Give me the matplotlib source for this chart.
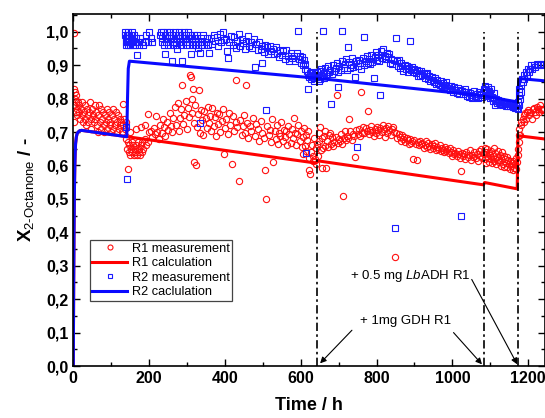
import numpy as np
import matplotlib
matplotlib.use('Agg')
import matplotlib.pyplot as plt
from matplotlib.ticker import MultipleLocator, FuncFormatter

plt.rcParams['font.family'] = ['Liberation Sans', 'DejaVu Sans']
plt.rcParams['mathtext.fontset'] = 'custom'
plt.rcParams['mathtext.rm'] = 'Liberation Sans'
plt.rcParams['mathtext.it'] = 'Liberation Sans:italic'
plt.rcParams['mathtext.bf'] = 'Liberation Sans:bold'

r1_t_a = [1, 2, 3, 3, 4, 5, 6, 7, 8, 9, 11, 12, 14, 16, 18, 20, 22, 24, 26, 28, 30, 32, 34, 36, 38,
          40, 42, 44, 46, 48, 50, 52, 54, 56, 58, 60, 62, 64, 66, 68, 70, 72, 74, 76, 78, 80, 82, 84,
          86, 88, 90, 92, 94, 96, 98, 100, 102, 104, 106, 108, 110, 112, 114, 116, 118, 120, 122, 124,
          126, 128, 130, 132, 134, 136, 138]
r1_y_a = [0.73, 0.83, 0.995, 0.78, 0.82, 0.80, 0.79, 0.76, 0.81, 0.77, 0.75, 0.79, 0.76, 0.78, 0.74,
          0.77, 0.79, 0.75, 0.73, 0.76, 0.78, 0.74, 0.72, 0.77, 0.75, 0.73, 0.76, 0.79, 0.74, 0.71,
          0.77, 0.75, 0.73, 0.78, 0.74, 0.76, 0.72, 0.70, 0.75, 0.78, 0.73, 0.71, 0.77, 0.74, 0.76,
          0.72, 0.70, 0.75, 0.73, 0.77, 0.71, 0.74, 0.76, 0.72, 0.73, 0.70, 0.75, 0.77, 0.71, 0.74,
          0.72, 0.76, 0.73, 0.70, 0.75, 0.71, 0.74, 0.72, 0.73, 0.70, 0.785, 0.72, 0.74, 0.71, 0.73]
r1_t_b = [140, 142, 143, 144, 146, 148, 150, 150, 152, 154, 156, 158, 160, 162, 164, 165, 166, 168, 170,
          172, 174, 176, 178, 178, 180, 182, 185, 188, 190, 192, 196, 196, 200]
r1_y_b = [0.68, 0.65, 0.59, 0.67, 0.64, 0.66, 0.63, 0.70, 0.65, 0.67, 0.64, 0.66, 0.63, 0.65, 0.64,
          0.71, 0.66, 0.63, 0.67, 0.64, 0.65, 0.63, 0.66, 0.715, 0.64, 0.67, 0.65, 0.68, 0.72, 0.66,
          0.67, 0.753, 0.70]
r1_t_c = [205, 208, 212, 215, 219, 222, 226, 229, 233, 236, 240, 243, 247, 250, 254, 257, 261, 264,
          268, 271, 275, 278, 282, 285, 288, 290, 293, 296, 299, 302, 305, 308, 310, 312, 314, 316,
          318, 319, 322, 324, 326, 329, 331, 334, 337, 340, 343, 346, 349, 352, 355, 358, 361, 364,
          367, 370, 373, 376, 379, 382, 385, 388, 391, 395, 398, 401, 404, 407, 410, 414, 418, 421,
          424, 428, 430, 433, 437, 440, 444, 447, 451, 454, 456, 459, 462, 466, 470, 474, 478, 482,
          486, 490, 494, 498, 502, 506, 509, 512, 515, 518, 521, 524, 528, 531, 534, 537, 540, 543,
          546, 549, 552, 555, 558, 561, 564, 567, 570, 573, 576, 579, 582, 585, 588, 591, 594, 597,
          600, 602, 605, 607, 609, 611, 613, 615, 617, 619, 621, 623, 625, 627, 629, 631, 633, 635,
          637, 639, 641]
r1_y_c = [0.703, 0.684, 0.712, 0.693, 0.748, 0.701, 0.679, 0.722, 0.697, 0.738,
          0.714, 0.688, 0.731, 0.706, 0.757, 0.718, 0.699, 0.743, 0.776, 0.721,
          0.787, 0.702, 0.741, 0.768, 0.84, 0.724, 0.752, 0.792, 0.709, 0.773,
          0.744, 0.87, 0.865, 0.80, 0.758, 0.83, 0.727, 0.61, 0.781, 0.60,
          0.716, 0.753, 0.826, 0.698, 0.767, 0.735, 0.692, 0.762, 0.741, 0.713,
          0.776, 0.728, 0.749, 0.704, 0.771, 0.719, 0.745, 0.687, 0.758, 0.723,
          0.754, 0.701, 0.732, 0.768, 0.634, 0.712, 0.739, 0.694, 0.757, 0.722,
          0.604, 0.747, 0.703, 0.729, 0.856, 0.714, 0.552, 0.736, 0.691, 0.718,
          0.751, 0.698, 0.84, 0.727, 0.683, 0.719, 0.704, 0.742, 0.688, 0.723,
          0.709, 0.674, 0.733, 0.696, 0.681, 0.585, 0.50, 0.718, 0.692, 0.707,
          0.671, 0.738, 0.609, 0.703, 0.679, 0.722, 0.664, 0.698, 0.687, 0.731,
          0.673, 0.706, 0.684, 0.702, 0.662, 0.717, 0.693, 0.668, 0.709, 0.682,
          0.743, 0.697, 0.661, 0.694, 0.721, 0.672, 0.703, 0.654, 0.634, 0.684,
          0.712, 0.659, 0.692, 0.643, 0.676, 0.703, 0.623, 0.587, 0.575, 0.641,
          0.662, 0.613, 0.628, 0.681, 0.619, 0.652, 0.603]
r1_t_d = [643, 645, 647, 649, 651, 653, 655, 657, 659, 661, 663, 665, 667, 669, 672, 675, 677, 680,
          683, 686, 689, 692, 695, 697, 700, 703, 706, 709, 711, 713, 716, 719, 722, 725, 728, 731,
          734, 737, 740, 744, 747, 750, 753, 756, 759, 762, 765, 768, 771, 774, 777, 780, 783, 786,
          789, 792, 795, 798, 801, 804, 807, 810, 813, 816, 819, 822, 825, 828, 831, 834, 837, 840,
          843, 846, 849, 852, 855, 858, 861, 864, 867, 870, 873, 876, 879, 882, 885, 888, 891, 894,
          897, 900, 903, 906, 909, 912, 915, 918, 921, 924, 927, 930, 933, 936, 939, 942, 945, 948,
          951, 954, 957, 960, 963, 966, 969, 972, 975, 978, 981, 984, 987, 990, 993, 996, 999, 1002,
          1005, 1008, 1011, 1014, 1017, 1020, 1022, 1025, 1028, 1031, 1034, 1037, 1040, 1043, 1046,
          1049, 1052, 1055, 1058, 1061, 1064, 1067, 1070, 1073, 1076, 1079, 1081]
r1_y_d = [0.664, 0.628, 0.697, 0.672, 0.716, 0.645, 0.592, 0.683, 0.652, 0.688, 0.657, 0.703, 0.592,
          0.674, 0.655, 0.692, 0.697, 0.663, 0.684, 0.657, 0.671, 0.686, 0.812, 0.668, 0.678, 0.673,
          0.693, 0.664, 0.51, 0.681, 0.704, 0.676, 0.689, 0.683, 0.738, 0.702, 0.677, 0.694, 0.687,
          0.625, 0.706, 0.695, 0.708, 0.689, 0.819, 0.698, 0.716, 0.697, 0.712, 0.703, 0.764, 0.693,
          0.707, 0.718, 0.701, 0.688, 0.709, 0.696, 0.714, 0.705, 0.691, 0.711, 0.699, 0.722, 0.708,
          0.684, 0.713, 0.697, 0.717, 0.706, 0.692, 0.709, 0.715, 0.701, 0.325, 0.698, 0.681, 0.694,
          0.686, 0.673, 0.691, 0.678, 0.684, 0.669, 0.683, 0.675, 0.664, 0.679, 0.668, 0.672, 0.619,
          0.676, 0.665, 0.615, 0.671, 0.661, 0.674, 0.663, 0.668, 0.652, 0.661, 0.673, 0.656, 0.666,
          0.659, 0.648, 0.664, 0.653, 0.657, 0.668, 0.646, 0.655, 0.649, 0.661, 0.642, 0.652, 0.647,
          0.639, 0.654, 0.643, 0.648, 0.636, 0.651, 0.641, 0.629, 0.646, 0.634, 0.638, 0.627, 0.643,
          0.633, 0.621, 0.584, 0.637, 0.628, 0.635, 0.619, 0.641, 0.626, 0.632, 0.645, 0.617, 0.631,
          0.624, 0.639, 0.622, 0.634, 0.614, 0.643, 0.629, 0.648, 0.623, 0.636]
r1_t_e = [1084, 1085, 1086, 1088, 1089, 1091, 1092, 1094, 1096, 1097, 1099, 1101, 1103, 1105, 1107,
          1109, 1111, 1113, 1115, 1117, 1119, 1121, 1123, 1125, 1127, 1129, 1131, 1133, 1135, 1137,
          1139, 1141, 1143, 1145, 1147, 1149, 1151, 1153, 1155, 1157, 1159, 1161, 1163, 1165, 1167,
          1169, 1171]
r1_y_e = [0.633, 0.652, 0.618, 0.641, 0.607, 0.629, 0.648, 0.621, 0.637, 0.611,
          0.632, 0.619, 0.644, 0.606, 0.627, 0.651, 0.614, 0.638, 0.603, 0.625,
          0.617, 0.642, 0.609, 0.631, 0.598, 0.622, 0.639, 0.605, 0.628, 0.596,
          0.618, 0.608, 0.626, 0.594, 0.615, 0.603, 0.588, 0.612, 0.597, 0.606,
          0.585, 0.614, 0.593, 0.604, 0.621, 0.590, 0.611]
r1_t_f = [1173, 1174, 1175, 1176, 1177, 1179, 1180, 1182, 1185, 1188, 1190, 1192, 1195, 1198, 1200,
          1203, 1206, 1209, 1212, 1214, 1217, 1220, 1222, 1225, 1228, 1231, 1234, 1236, 1239]
r1_y_f = [0.63, 0.65, 0.67, 0.69, 0.71, 0.69, 0.72, 0.73, 0.74, 0.73, 0.75, 0.756, 0.74, 0.76, 0.766,
          0.75, 0.76, 0.74, 0.77, 0.771, 0.76, 0.75, 0.776, 0.77, 0.76, 0.78, 0.77, 0.766, 0.77]

# ---- R2 measurement (blue squares)
r2_t_a = [136, 137, 138, 139, 140, 140, 141, 141, 142, 143, 144, 145, 146, 147, 148, 150, 151, 152,
          154, 155, 157, 158, 160, 162, 164, 166, 167, 170, 173, 176, 180, 184, 188, 192, 196, 200,
          204, 208]
r2_y_a = [0.99, 1.00, 0.97, 0.98, 0.96, 0.716, 0.99, 0.56, 0.97, 1.00, 0.98, 0.96, 0.99, 0.97, 0.98,
          0.96, 0.99, 0.97, 1.00, 0.98, 0.96, 0.97, 0.99, 0.97, 0.96, 0.98, 0.93, 0.97, 0.96, 0.98,
          0.97, 0.96, 0.97, 0.99, 0.97, 0.998, 0.98, 0.97]
r2_t_b = [229, 231, 233, 235, 237, 239, 241, 242, 244, 246, 248, 250, 252, 254, 256, 258, 261, 262,
          264, 266, 268, 270, 272, 274, 276, 278, 280, 282, 284, 286, 288, 290, 292, 294, 296, 298,
          300, 302, 304, 306, 308, 311, 312, 314, 316, 318, 320, 322, 324, 326, 328, 330, 333, 334,
          336, 338, 340, 343, 346, 349, 352, 356, 358]
r2_y_b = [0.99, 1.00, 0.97, 0.98, 1.00, 0.96, 0.99, 0.932, 0.97, 1.00, 0.98, 0.96, 0.99, 0.97, 1.00,
          0.98, 0.913, 0.96, 0.99, 0.97, 1.00, 0.98, 0.96, 0.948, 0.99, 0.97, 1.00, 0.98, 0.96, 0.913,
          0.99, 0.97, 1.00, 0.98, 0.96, 0.99, 0.97, 1.00, 0.98, 0.96, 0.99, 0.932, 0.97, 0.98, 0.96,
          0.99, 0.97, 0.98, 0.96, 0.99, 0.97, 0.95, 0.935, 0.728, 0.98, 0.96, 0.97, 0.99, 0.96, 0.97,
          0.98, 0.96, 0.935]
r2_t_c = [362, 366, 370, 374, 378, 382, 386, 390, 394, 398, 402, 405, 409, 412, 416, 420, 424, 428,
          432, 436, 440, 444, 448, 452, 456, 460, 464, 468, 472, 476, 479, 482, 486, 490, 494, 497,
          499, 502, 505, 508, 510, 514, 518, 522, 526, 530, 534, 538, 542, 546, 550, 554, 558, 562,
          566, 570, 574, 578, 582, 586, 590, 592, 595, 598, 601, 604, 606, 608, 610, 612, 614, 616,
          618, 620, 622, 624, 626, 628, 630, 632, 634, 636, 638, 640]
r2_y_c = [0.982, 0.963, 0.991, 0.972, 0.984, 0.958, 0.993, 0.969, 1.000, 0.974, 0.979, 0.943, 0.92,
          0.968, 0.988, 0.961, 0.983, 0.952, 0.973, 0.994, 0.957, 0.978, 0.966, 0.948, 0.971, 0.987,
          0.956, 0.968, 0.951, 0.977, 0.896, 0.962, 0.944, 0.969, 0.947, 0.958, 0.907, 0.938, 0.961,
          0.766, 0.953, 0.934, 0.957, 0.941, 0.949, 0.933, 0.955, 0.937, 0.924, 0.946, 0.929, 0.942,
          0.918, 0.944, 0.927, 0.913, 0.936, 0.921, 0.928, 0.914, 0.935, 1.003, 0.919, 0.926, 0.908,
          0.923, 0.902, 0.916, 0.905, 0.889, 0.637, 0.883, 0.872, 0.829, 0.864, 0.878, 0.869, 0.858,
          0.881, 0.867, 0.853, 0.862, 0.876, 0.866]
r2_t_d = [642, 644, 646, 648, 650, 652, 654, 656, 658, 660, 662, 665, 668, 671, 674, 677, 680, 683,
          686, 689, 692, 695, 698, 699, 702, 705, 708, 710, 713, 716, 719, 722, 724, 727, 730, 733,
          736, 739, 742, 745, 748, 751, 754, 757, 760, 763, 766, 768, 771, 774, 777, 780, 783, 786,
          789, 792, 795, 798, 801, 804, 807, 809, 812, 815, 818, 821, 824, 827, 830, 833, 836, 839,
          842, 845, 849, 851, 853, 856, 859, 862, 865, 868, 871, 874, 877, 880, 883, 886, 888, 891,
          894, 897, 900, 903, 906, 909, 912, 915, 918, 921, 924, 927, 930, 933, 936, 939, 942, 945,
          948, 951, 954, 957, 960, 963, 966, 969, 972, 975, 978, 981, 984, 987, 990, 993, 996, 999,
          1002, 1005, 1008, 1011, 1014, 1017, 1020, 1023, 1026, 1029, 1032, 1035, 1038, 1041, 1044,
          1047, 1050, 1053, 1056, 1059, 1062, 1065, 1068, 1071, 1074, 1077, 1080]
r2_y_d = [0.864, 0.879, 0.871, 0.853, 0.884, 0.858, 0.889, 0.868, 1.002, 0.876, 0.862, 0.893, 0.873,
          0.897, 0.881, 0.887, 0.783, 0.874, 0.902, 0.883, 0.893, 0.908, 0.879, 0.836, 0.899, 0.886,
          0.912, 1.002, 0.891, 0.904, 0.918, 0.887, 0.955, 0.909, 0.893, 0.902, 0.921, 0.896, 0.866,
          0.913, 0.654, 0.898, 0.917, 0.906, 0.889, 0.922, 0.901, 0.985, 0.914, 0.928, 0.907, 0.919,
          0.903, 0.931, 0.911, 0.861, 0.924, 0.938, 0.916, 0.929, 0.913, 0.811, 0.942, 0.921, 0.947,
          0.926, 0.918, 0.936, 0.923, 0.932, 0.908, 0.919, 0.903, 0.917, 0.413, 0.982, 0.912, 0.897,
          0.915, 0.893, 0.906, 0.899, 0.884, 0.902, 0.888, 0.897, 0.881, 0.892, 0.972, 0.886, 0.896,
          0.879, 0.889, 0.876, 0.887, 0.869, 0.882, 0.867, 0.884, 0.871, 0.878, 0.862, 0.874, 0.877,
          0.859, 0.868, 0.854, 0.866, 0.857, 0.849, 0.861, 0.843, 0.856, 0.848, 0.841, 0.853, 0.838,
          0.846, 0.834, 0.842, 0.849, 0.832, 0.839, 0.826, 0.837, 0.829, 0.821, 0.836, 0.827, 0.818,
          0.831, 0.815, 0.826, 0.45, 0.822, 0.813, 0.828, 0.819, 0.808, 0.821, 0.804, 0.817, 0.811,
          0.802, 0.823, 0.809, 0.806, 0.814, 0.803, 0.819, 0.812, 0.805, 0.818]
r2_t_e = [1083, 1085, 1086, 1088, 1089, 1091, 1093, 1094, 1096, 1098, 1100, 1102, 1104, 1106, 1108,
          1110, 1112, 1114, 1116, 1118, 1120, 1123, 1126, 1129, 1132, 1135, 1138, 1141, 1144, 1147,
          1150, 1153, 1156, 1159, 1162, 1165, 1168, 1170]
r2_y_e = [0.828, 0.817, 0.838, 0.811, 0.826, 0.819, 0.834, 0.808, 0.824, 0.815, 0.803, 0.829, 0.806,
          0.793, 0.801, 0.816, 0.782, 0.794, 0.799, 0.787, 0.797, 0.789, 0.784, 0.792, 0.781, 0.788,
          0.783, 0.779, 0.786, 0.777, 0.784, 0.779, 0.788, 0.774, 0.781, 0.772, 0.779, 0.771]
r2_t_f = [1173, 1174, 1175, 1176, 1177, 1178, 1180, 1182, 1184, 1186, 1188, 1190, 1193, 1196, 1199,
          1202, 1205, 1208, 1211, 1214, 1218, 1222, 1226, 1230, 1234, 1238]
r2_y_f = [0.77, 0.79, 0.81, 0.78, 0.83, 0.80, 0.84, 0.82, 0.86, 0.85, 0.87, 0.86, 0.88, 0.87, 0.89,
          0.88, 0.89, 0.90, 0.89, 0.90, 0.895, 0.905, 0.90, 0.905, 0.90, 0.905]

# ---- model curves
r1_calc_t = [0, 1, 2, 3, 4, 5, 6, 8, 10, 13, 17, 22, 641, 644, 1082, 1085, 1171, 1173, 1245]
r1_calc_y = [0.0, 0.25, 0.42, 0.53, 0.60, 0.64, 0.665, 0.685, 0.695, 0.70, 0.704, 0.705,
             0.607, 0.614, 0.542, 0.549, 0.530, 0.689, 0.679]
r2_calc_t = [0, 1, 2, 3, 4, 5, 6, 8, 10, 13, 17, 22, 141, 143, 145, 148, 642, 1083, 1171, 1173,
             1175, 1178, 1245]
r2_calc_y = [0.0, 0.25, 0.42, 0.53, 0.60, 0.64, 0.665, 0.685, 0.695, 0.70, 0.704, 0.705, 0.686,
             0.80, 0.89, 0.912, 0.861, 0.808, 0.79, 0.82, 0.85, 0.86, 0.853]

# enzyme additions
additions = [642, 1083, 1172]

r1_t = np.concatenate([r1_t_a, r1_t_b, r1_t_c, r1_t_d, r1_t_e, r1_t_f])
r1_y = np.concatenate([r1_y_a, r1_y_b, r1_y_c, r1_y_d, r1_y_e, r1_y_f])
r2_t = np.concatenate([r2_t_a, r2_t_b, r2_t_c, r2_t_d, r2_t_e, r2_t_f])
r2_y = np.concatenate([r2_y_a, r2_y_b, r2_y_c, r2_y_d, r2_y_e, r2_y_f])

fig = plt.figure(figsize=(5.45, 4.18), dpi=100)
ax = fig.add_axes([0.1345, 0.1244, 0.8646, 0.842])

ax.plot(r1_t, r1_y, 'o', mfc='none', mec='#ff1010', ms=4.5, mew=0.8, label='R1 measurement')
ax.plot(r1_calc_t, r1_calc_y, '-', color='#ff0000', lw=2.2, label='R1 calculation')
ax.plot(r2_t, r2_y, 's', mfc='none', mec='#1a1aff', ms=4.0, mew=0.8, label='R2 measurement')
ax.plot(r2_calc_t, r2_calc_y, '-', color='#0a0aff', lw=2.2, label='R2 caclulation')

for xa in additions:
    ax.plot([xa, xa], [0, 1.0], color='k', lw=1.2, dashes=(5, 2, 1.5, 2))

arr = dict(arrowstyle='-|>', color='k', lw=0.8, mutation_scale=9, shrinkA=0, shrinkB=0)
ax.text(877, 0.134, '+ 1mg GDH R1', ha='center', va='center', fontsize=9.5)
ax.annotate('', xy=(651, 0.008), xytext=(735, 0.107), arrowprops=arr)
ax.annotate('', xy=(1078, 0.005), xytext=(1003, 0.100), arrowprops=arr)
ax.text(888, 0.269, '+ 0.5 mg $\\it{Lb}$ADH R1', ha='center', va='center', fontsize=9.5)
ax.annotate('', xy=(1171, 0.005), xytext=(1051, 0.259), arrowprops=arr)

ax.set_xlim(0, 1243)
ax.set_ylim(0, 1.053)
ax.xaxis.set_major_locator(MultipleLocator(200))
ax.xaxis.set_minor_locator(MultipleLocator(100))
ax.yaxis.set_major_locator(MultipleLocator(0.1))
ax.yaxis.set_minor_locator(MultipleLocator(0.05))
ax.yaxis.set_major_formatter(FuncFormatter(lambda v, p: f'{v:.1f}'.replace('.', ',')))
ax.tick_params(which='both', direction='in', top=True, right=True, width=1)
ax.tick_params(which='major', length=5, labelsize=11.5)
ax.tick_params(which='minor', length=3)
for lab in ax.get_xticklabels() + ax.get_yticklabels():
    lab.set_fontweight('bold')
for s in ax.spines.values():
    s.set_linewidth(1.2)

ax.set_xlabel('Time / h', fontsize=13, fontweight='bold', labelpad=8)
ax.set_ylabel('$\\mathbf{X}_{\\mathrm{2‐Octanone}}$ / -', fontsize=13.5, fontweight='bold', labelpad=7)

leg = ax.legend(loc='lower left', bbox_to_anchor=(0.035, 0.185), fontsize=9.2, fancybox=False,
                edgecolor='#444444', framealpha=1, borderaxespad=0, handlelength=2.7,
                labelspacing=0.2, borderpad=0.2, handletextpad=0.4, markerscale=0.8)
leg.get_frame().set_linewidth(0.9)

fig.savefig('out.png', dpi=100)
